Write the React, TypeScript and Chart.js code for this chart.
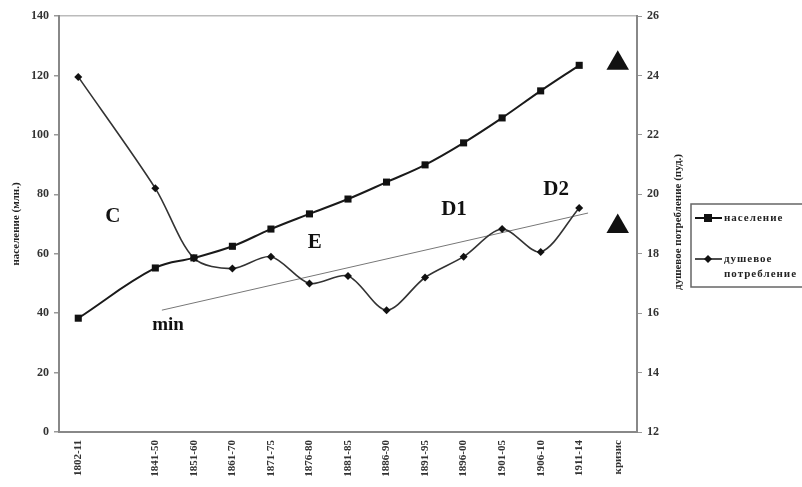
import React, { useEffect, useRef } from "react";
import { Chart, registerables } from "chart.js";

Chart.register(...registerables);

// ---- data ----
const categories = [
  "1802-11", "", "1841-50", "1851-60", "1861-70", "1871-75", "1876-80",
  "1881-85", "1886-90", "1891-95", "1896-00", "1901-05", "1906-10", "1911-14", "кризис",
];
const population = [38.3, null, 55.2, 58.6, 62.5, 68.3, 73.4, 78.4, 84.1, 89.9, 97.3, 105.7, 114.8, 123.4, null];
const consumption = [23.95, null, 20.2, 17.85, 17.5, 17.9, 17.0, 17.25, 16.1, 17.2, 17.9, 18.83, 18.06, 19.54, null];
const crisisIndex = 14;
const crisisValues = [24.41, 18.92];
const trendX = [2.17, 13.23];
const trendY = [16.1, 19.37];
const leftTicks = { min: 0, max: 140, step: 20 };
const rightTicks = { min: 12, max: 26, step: 2 };
const seriesNames = ["население", "душевое потребление"];
const leftTitle = "население (млн.)";
const rightTitle = "душевое потребление (пуд.)";
const annotations = [
  { text: "C", x: 0.9, y: 72.4 },
  { text: "E", x: 6.14, y: 63.9 },
  { text: "D1", x: 9.75, y: 74.7 },
  { text: "D2", x: 12.4, y: 81.5 },
  { text: "min", x: 2.33, y: 36.0 },
];

const SERIF = '"Liberation Serif", "DejaVu Serif", serif';

const toPoints = (vals: (number | null)[]) =>
  vals
    .map((v, i) => (v === null ? null : { x: i, y: v }))
    .filter((p) => p !== null) as { x: number; y: number }[];

const overlayPlugin = {
  id: "overlay",
  afterDraw(chart: any) {
    const ctx = chart.ctx as CanvasRenderingContext2D;
    const xs = chart.scales.x;
    const ys = chart.scales.y;
    ctx.save();
    // annotations
    ctx.fillStyle = "#111";
    ctx.textAlign = "center";
    ctx.textBaseline = "middle";
    for (const a of annotations) {
      ctx.font = `bold ${a.text === "min" ? 19 : 21}px ${SERIF}`;
      ctx.fillText(a.text, xs.getPixelForValue(a.x), ys.getPixelForValue(a.y));
    }
    // axis titles
    ctx.font = `bold 11px ${SERIF}`;
    ctx.fillStyle = "#222";
    ctx.save();
    ctx.translate(16, 224);
    ctx.rotate(-Math.PI / 2);
    ctx.fillText(leftTitle, 0, 0);
    ctx.restore();
    ctx.save();
    ctx.translate(678, 222);
    ctx.rotate(-Math.PI / 2);
    ctx.fillText(rightTitle, 0, 0);
    ctx.restore();
    // legend
    ctx.strokeStyle = "#666";
    ctx.lineWidth = 1.5;
    ctx.strokeRect(691, 204, 130, 83);
    ctx.strokeStyle = "#111";
    ctx.fillStyle = "#111";
    // entry 1
    ctx.lineWidth = 2;
    ctx.beginPath();
    ctx.moveTo(695, 218);
    ctx.lineTo(722, 218);
    ctx.stroke();
    ctx.fillRect(704, 214, 8, 8);
    // entry 2
    ctx.lineWidth = 1.5;
    ctx.beginPath();
    ctx.moveTo(695, 259);
    ctx.lineTo(722, 259);
    ctx.stroke();
    ctx.beginPath();
    ctx.moveTo(708, 255);
    ctx.lineTo(712, 259);
    ctx.lineTo(708, 263);
    ctx.lineTo(704, 259);
    ctx.closePath();
    ctx.fill();
    ctx.font = `bold 11px ${SERIF}`;
    (ctx as any).letterSpacing = "1px";
    ctx.textAlign = "left";
    ctx.fillStyle = "#222";
    ctx.fillText(seriesNames[0], 724, 218);
    const parts = seriesNames[1].split(" ");
    ctx.fillText(parts[0], 724, 259);
    ctx.fillText(parts[1], 724, 274);
    ctx.restore();
  },
};

export default function App() {
  const ref = useRef<HTMLCanvasElement | null>(null);
  useEffect(() => {
    if (!ref.current) return;
    const tickFont = { family: SERIF, size: 12, weight: "bold" as const };
    const chart = new Chart(ref.current, {
      type: "line",
      data: {
        datasets: [
          {
            label: seriesNames[0],
            data: toPoints(population),
            yAxisID: "y",
            borderColor: "#1a1a1a",
            borderWidth: 2,
            pointStyle: "rect",
            pointRadius: 5,
            pointBackgroundColor: "#111",
            pointBorderColor: "#111",
            pointBorderWidth: 0,
            tension: 0.4,
          },
          {
            label: seriesNames[1],
            data: toPoints(consumption),
            yAxisID: "y1",
            borderColor: "#333",
            borderWidth: 1.6,
            pointStyle: "rectRot",
            pointRadius: 4,
            pointBackgroundColor: "#111",
            pointBorderColor: "#111",
            pointBorderWidth: 0,
            tension: 0.3,
          },
          {
            label: "crisis",
            data: crisisValues.map((v) => ({ x: crisisIndex, y: v })),
            yAxisID: "y1",
            showLine: false,
            pointStyle: "triangle",
            pointRadius: 13,
            pointBackgroundColor: "#111",
            pointBorderColor: "#111",
            pointBorderWidth: 0,
          },
          {
            label: "trend",
            data: trendX.map((x, i) => ({ x, y: trendY[i] })),
            yAxisID: "y1",
            borderColor: "#777",
            borderWidth: 1,
            pointRadius: 0,
            tension: 0,
          },
        ],
      },
      options: {
        responsive: false,
        animation: false,
        layout: { padding: { top: 16, left: 0, right: 0, bottom: 0 } },
        plugins: { legend: { display: false }, tooltip: { enabled: false } },
        scales: {
          x: {
            type: "linear",
            min: -0.5,
            max: categories.length - 0.5,
            afterBuildTicks: (s: any) => {
              s.ticks = categories.map((_, i) => ({ value: i }));
            },
            ticks: {
              autoSkip: false,
              minRotation: 90,
              maxRotation: 90,
              callback: (v: any) => categories[v] ?? "",
              font: { family: SERIF, size: 11, weight: "bold" },
              color: "#333",
              padding: 4,
            },
            grid: { display: true, drawOnChartArea: false, tickLength: 4, color: "transparent", tickColor: "transparent" },
            border: { color: "#888", width: 2 },
            afterFit: (s: any) => {
              s.height = 55;
            },
          },
          y: {
            position: "left",
            min: leftTicks.min,
            max: leftTicks.max,
            ticks: { stepSize: leftTicks.step, font: tickFont, color: "#333", padding: 5 },
            grid: {
              color: (c: any) => (c.tick && c.tick.value === leftTicks.max ? "#bbb" : "transparent"),
              tickColor: "#999",
              tickLength: 5,
              lineWidth: 1.5,
            },
            border: { color: "#888", width: 2 },
            afterFit: (s: any) => {
              s.width = 59;
            },
          },
          y1: {
            position: "right",
            min: rightTicks.min,
            max: rightTicks.max,
            ticks: { stepSize: rightTicks.step, font: tickFont, color: "#333", padding: 5 },
            grid: { drawOnChartArea: false, tickColor: "#999", tickLength: 5 },
            border: { color: "#888", width: 2 },
            afterFit: (s: any) => {
              s.width = 165;
            },
          },
        },
      },
      plugins: [overlayPlugin],
    });
    return () => chart.destroy();
  }, []);
  return (
    <div style={{ position: "fixed", left: 0, top: 0, width: 802, height: 487, background: "#fff" }}>
      <canvas ref={ref} width={802} height={487} />
    </div>
  );
}
